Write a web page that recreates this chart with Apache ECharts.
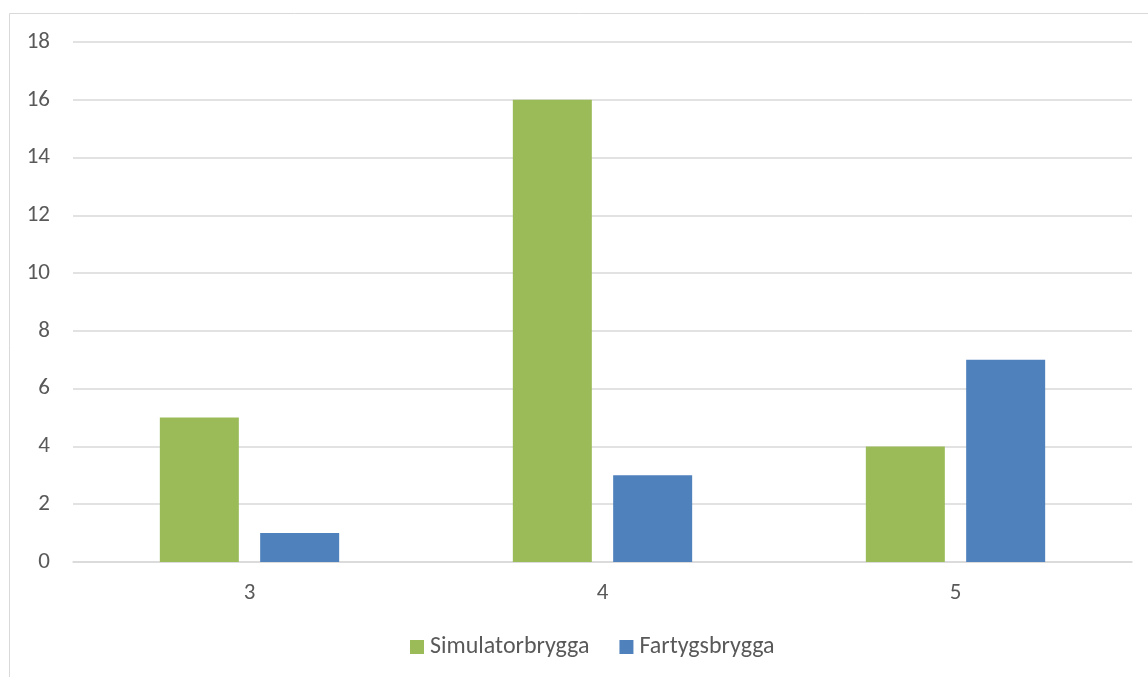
<!DOCTYPE html>
<html>
<head>
<meta charset="utf-8">
<script src="https://cdn.jsdelivr.net/npm/echarts@6/dist/echarts.min.js"></script>
<style>
  html, body { margin: 0; padding: 0; background: #ffffff; }
  #chart { width: 1148px; height: 677px; }
</style>
</head>
<body>
<div id="chart"></div>
<script>
// Categories on the x axis
const categories = ['3', '4', '5'];
// Series values
const simulatorbrygga = [5, 16, 4];
const fartygsbrygga = [1, 3, 7];
// Y axis range
const yMin = 0;
const yMax = 18;
const yStep = 2;

const textColor = '#595959';
const fontFamily = 'Carlito, Calibri, Lato, "Open Sans", "Liberation Sans", sans-serif';

const chart = echarts.init(document.getElementById('chart'), null, { renderer: 'canvas' });

chart.setOption({
  animation: false,
  backgroundColor: '#ffffff',
  textStyle: { fontFamily: fontFamily, color: textColor },
  graphic: [{
    type: 'rect',
    shape: { x: 9.5, y: 13.5, width: 1160, height: 700 },
    style: { fill: 'none', stroke: '#d9d9d9', lineWidth: 1 },
    silent: true,
    z: -1
  }],
  grid: {
    left: 73,
    right: 16,
    top: 42,
    bottom: 115,
    containLabel: false
  },
  legend: {
    bottom: 13,
    left: 405,
    itemWidth: 14,
    itemHeight: 14,
    itemGap: 30,
    icon: 'rect',
    textStyle: { fontSize: 24, color: textColor, fontFamily: fontFamily, padding: [0, 0, 0, 1] },
    data: ['Simulatorbrygga', 'Fartygsbrygga']
  },
  xAxis: {
    type: 'category',
    data: categories,
    axisLine: { show: true, lineStyle: { color: '#d9d9d9', width: 1.5 } },
    axisTick: { show: false },
    axisLabel: { color: textColor, fontSize: 23, margin: 20, fontFamily: fontFamily },
    splitLine: { show: false }
  },
  yAxis: {
    type: 'value',
    min: yMin,
    max: yMax,
    interval: yStep,
    axisLine: { show: false },
    axisTick: { show: false },
    axisLabel: { color: textColor, fontSize: 23, margin: 23, fontFamily: fontFamily },
    splitLine: { show: true, lineStyle: { color: '#d9d9d9', width: 1.5 } }
  },
  series: [
    {
      name: 'Simulatorbrygga',
      type: 'bar',
      data: simulatorbrygga,
      barWidth: 79,
      barGap: '27%',
      itemStyle: { color: '#9bbb59' }
    },
    {
      name: 'Fartygsbrygga',
      type: 'bar',
      data: fartygsbrygga,
      barWidth: 79,
      barGap: '27%',
      itemStyle: { color: '#4f81bd' }
    }
  ]
});
</script>
</body>
</html>
